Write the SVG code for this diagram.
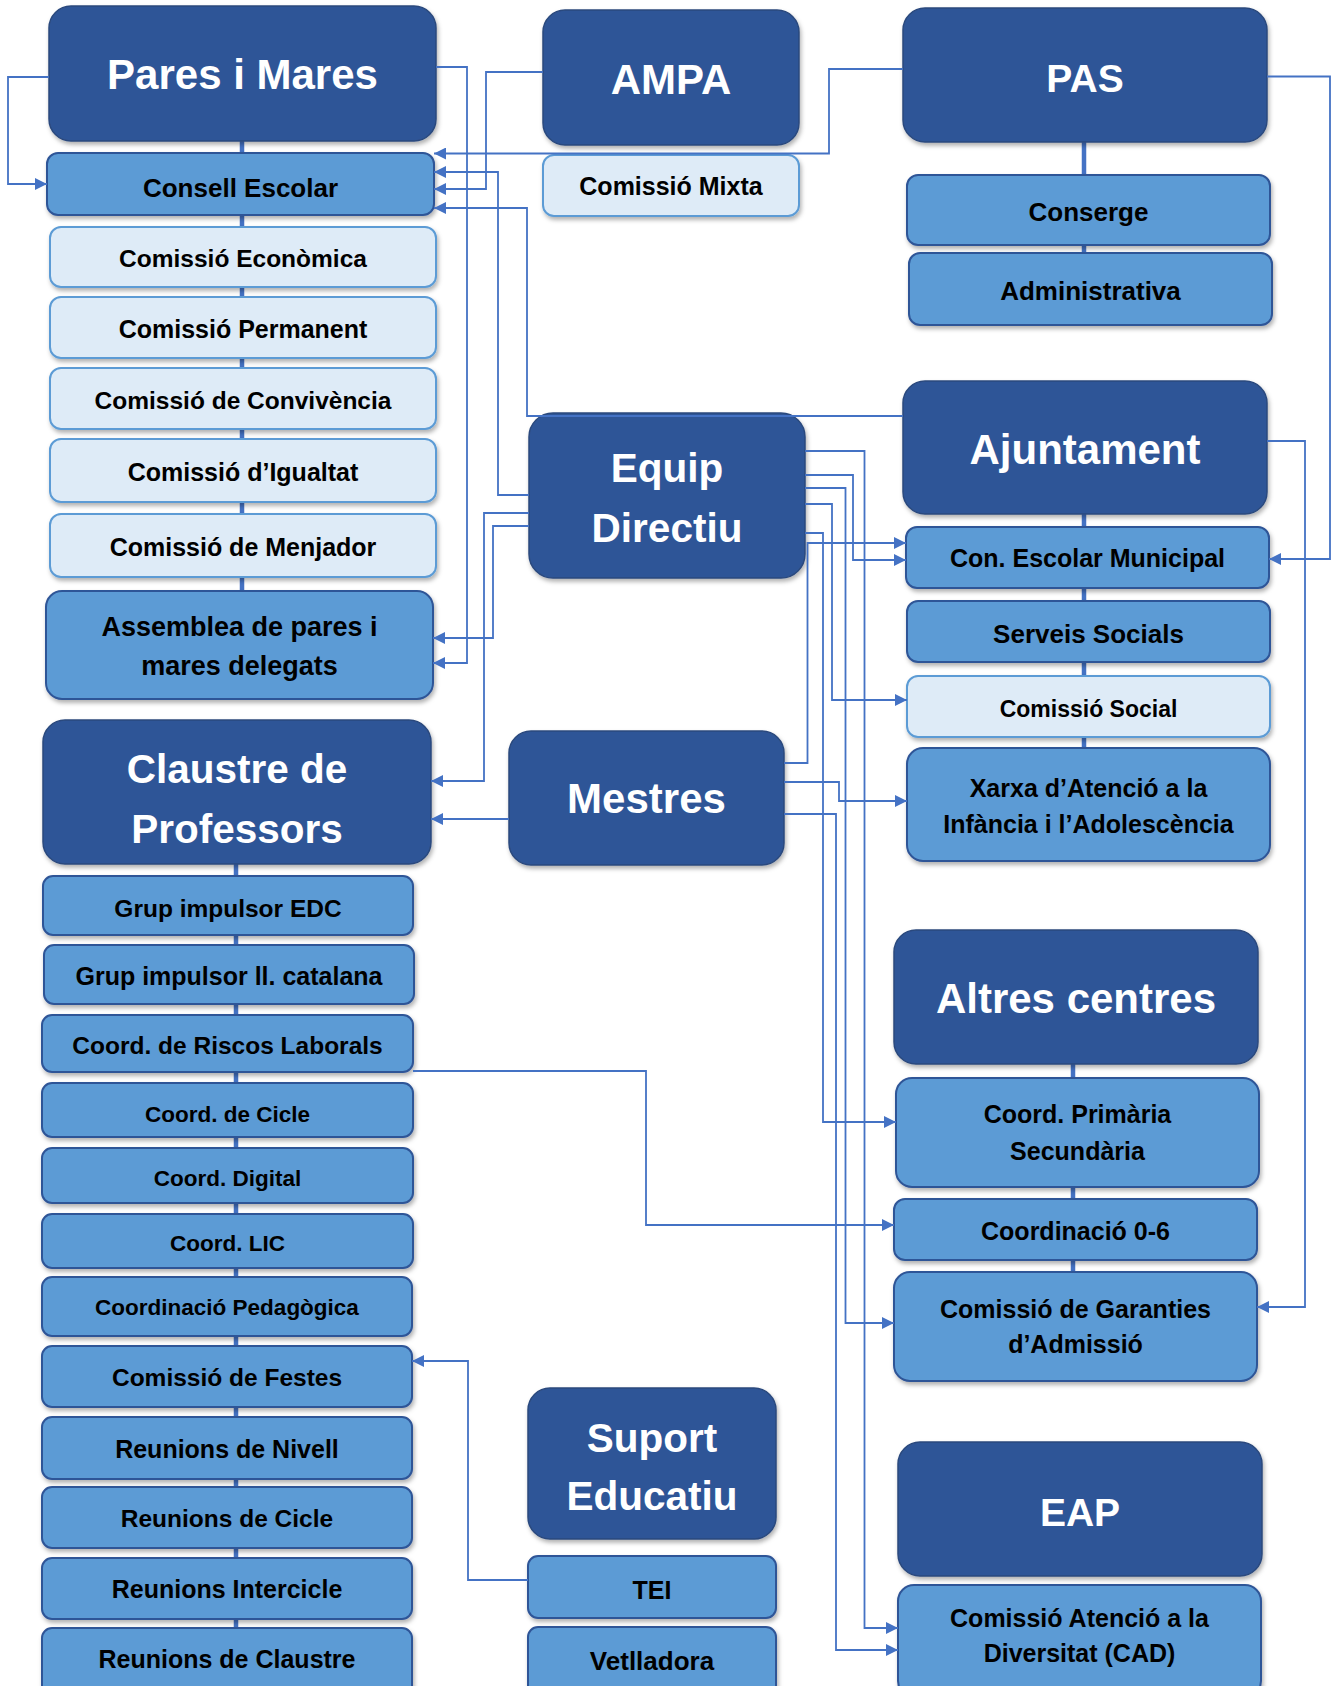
<svg xmlns="http://www.w3.org/2000/svg" width="1332" height="1686" viewBox="0 0 1332 1686">
<defs>
<filter id="sh" x="-10%" y="-10%" width="125%" height="135%">
<feDropShadow dx="1.5" dy="3" stdDeviation="2" flood-color="#000" flood-opacity="0.3"/>
</filter>
<marker id="ar" viewBox="0 0 12 12" refX="12" refY="6" markerWidth="12" markerHeight="12" markerUnits="userSpaceOnUse" orient="auto">
<path d="M0,0 L12,6 L0,12 z" fill="#4472c4"/>
</marker>
</defs>
<style>
.dk{fill:#2f5597;stroke:#2c4a7e;stroke-width:1.5;filter:url(#sh)}
.md{fill:#5b9bd5;stroke:#2f5597;stroke-width:2;filter:url(#sh)}
.lt{fill:#deebf7;stroke:#5b9bd5;stroke-width:2;filter:url(#sh)}
text{font-family:"Liberation Sans",Arial,sans-serif;font-weight:bold;text-anchor:middle}
.w{fill:#ffffff}
.b{fill:#000000}
.t42{font-size:42px}.t40{font-size:40.5px}.t39{font-size:39px}
.t27{font-size:27px}.t26{font-size:26px}.t25{font-size:25px}.t24{font-size:24.5px}.t23{font-size:23px}.t22{font-size:22.5px}
.stub{stroke:#4472c4;stroke-width:4.5;fill:none}
.cn{stroke:#4472c4;stroke-width:1.8;fill:none;marker-end:url(#ar)}
.cn0{stroke:#4472c4;stroke-width:1.8;fill:none}
</style>

<g id="stubs">
<path class="stub" d="M242,141V153M242,215V227M242,287V297M242,358V368M242,429V439M242,502V514M242,577V591"/>
<path class="stub" d="M1084,142V175M1084,245V253"/>
<path class="stub" d="M1084,514V527M1084,588V601M1084,662V676M1084,737V748"/>
<path class="stub" d="M1073,1064V1078M1073,1187V1199M1073,1260V1272"/>
<path class="stub" d="M236,864V876M236,935V945M236,1004V1015M236,1072V1083M236,1137V1148M236,1203V1214M236,1268V1277M236,1336V1346M236,1407V1417M236,1479V1487M236,1548V1558M236,1619V1628"/>
</g>

<g id="pares"><rect class="dk" x="49" y="6" width="387" height="135" rx="22"/><text class="w t42" x="242.5" y="89">Pares i Mares</text></g>
<g id="consell"><rect class="md" x="47" y="153" width="387" height="62" rx="11"/><text class="b t26" x="240.5" y="197">Consell Escolar</text></g>
<g id="com-economica"><rect class="lt" x="50" y="227" width="386" height="60" rx="11"/><text class="b t24" x="243" y="267">Comissió Econòmica</text></g>
<g id="com-permanent"><rect class="lt" x="50" y="297" width="386" height="61" rx="11"/><text class="b t25" x="243" y="338">Comissió Permanent</text></g>
<g id="com-convivencia"><rect class="lt" x="50" y="368" width="386" height="61" rx="11"/><text class="b t24" x="243" y="408.5">Comissió de Convivència</text></g>
<g id="com-igualtat"><rect class="lt" x="50" y="439" width="386" height="63" rx="11"/><text class="b t25" x="243" y="481">Comissió d’Igualtat</text></g>
<g id="com-menjador"><rect class="lt" x="50" y="514" width="386" height="63" rx="11"/><text class="b t25" x="243" y="556">Comissió de Menjador</text></g>
<g id="assemblea"><rect class="md" x="46" y="591" width="387" height="108" rx="16"/><text class="b t27" x="239.5" y="636">Assemblea de pares i</text><text class="b t27" x="239.5" y="675">mares delegats</text></g>

<g id="ampa"><rect class="dk" x="543" y="10" width="256" height="135" rx="22"/><text class="w t42" x="671" y="94">AMPA</text></g>
<g id="com-mixta"><rect class="lt" x="543" y="155" width="256" height="61" rx="11"/><text class="b t25" x="671" y="195">Comissió Mixta</text></g>

<g id="pas"><rect class="dk" x="903" y="8" width="364" height="134" rx="22"/><text class="w t39" x="1085" y="92">PAS</text></g>
<g id="conserge"><rect class="md" x="907" y="175" width="363" height="70" rx="11"/><text class="b t26" x="1088.5" y="221">Conserge</text></g>
<g id="administrativa"><rect class="md" x="909" y="253" width="363" height="72" rx="11"/><text class="b t26" x="1090.5" y="299.5">Administrativa</text></g>

<g id="ajuntament"><rect class="dk" x="903" y="381" width="364" height="133" rx="22"/><text class="w t42" x="1085" y="464">Ajuntament</text></g>
<g id="con-escolar-municipal"><rect class="md" x="906" y="527" width="363" height="61" rx="11"/><text class="b t25" x="1087.5" y="566.5">Con. Escolar Municipal</text></g>
<g id="serveis-socials"><rect class="md" x="907" y="601" width="363" height="61" rx="11"/><text class="b t26" x="1088.5" y="643">Serveis Socials</text></g>
<g id="com-social"><rect class="lt" x="907" y="676" width="363" height="61" rx="11"/><text class="b t23" x="1088.5" y="716.5">Comissió Social</text></g>
<g id="xarxa"><rect class="md" x="907" y="748" width="363" height="113" rx="16"/><text class="b t25" x="1088.5" y="796.5">Xarxa d’Atenció a la</text><text class="b t25" x="1088.5" y="833">Infància i l’Adolescència</text></g>

<g id="equip"><rect class="dk" x="529" y="413" width="276" height="165" rx="24"/><text class="w t40" x="667" y="482">Equip</text><text class="w t40" x="667" y="542">Directiu</text></g>
<g id="mestres"><rect class="dk" x="509" y="731" width="275" height="134" rx="22"/><text class="w t42" x="646.5" y="813">Mestres</text></g>

<g id="claustre"><rect class="dk" x="43" y="720" width="388" height="144" rx="22"/><text class="w t40" x="237" y="783">Claustre de</text><text class="w t40" x="237" y="843">Professors</text></g>
<g id="grup-edc"><rect class="md" x="43" y="876" width="370" height="59" rx="10"/><text class="b t24" x="228" y="917">Grup impulsor EDC</text></g>
<g id="grup-catalana"><rect class="md" x="44" y="945" width="370" height="59" rx="10"/><text class="b t25" x="229" y="985">Grup impulsor ll. catalana</text></g>
<g id="coord-riscos"><rect class="md" x="42" y="1015" width="371" height="57" rx="10"/><text class="b t24" x="227.5" y="1054">Coord. de Riscos Laborals</text></g>
<g id="coord-cicle"><rect class="md" x="42" y="1083" width="371" height="54" rx="10"/><text class="b t22" x="227.5" y="1122">Coord. de Cicle</text></g>
<g id="coord-digital"><rect class="md" x="42" y="1148" width="371" height="55" rx="10"/><text class="b t22" x="227.5" y="1186">Coord. Digital</text></g>
<g id="coord-lic"><rect class="md" x="42" y="1214" width="371" height="54" rx="10"/><text class="b t22" x="227.5" y="1251">Coord. LIC</text></g>
<g id="coord-pedagogica"><rect class="md" x="42" y="1277" width="370" height="59" rx="10"/><text class="b t22" x="227" y="1315">Coordinació Pedagògica</text></g>
<g id="com-festes"><rect class="md" x="42" y="1346" width="370" height="61" rx="10"/><text class="b t24" x="227" y="1386">Comissió de Festes</text></g>
<g id="reunions-nivell"><rect class="md" x="42" y="1417" width="370" height="62" rx="10"/><text class="b t25" x="227" y="1458">Reunions de Nivell</text></g>
<g id="reunions-cicle"><rect class="md" x="42" y="1487" width="370" height="61" rx="10"/><text class="b t24" x="227" y="1527">Reunions de Cicle</text></g>
<g id="reunions-intercicle"><rect class="md" x="42" y="1558" width="370" height="61" rx="10"/><text class="b t25" x="227" y="1598">Reunions Intercicle</text></g>
<g id="reunions-claustre"><rect class="md" x="42" y="1628" width="370" height="72" rx="10"/><text class="b t25" x="227" y="1668">Reunions de Claustre</text></g>

<g id="altres"><rect class="dk" x="894" y="930" width="364" height="134" rx="22"/><text class="w t42" x="1076" y="1013">Altres centres</text></g>
<g id="coord-primaria"><rect class="md" x="896" y="1078" width="363" height="109" rx="16"/><text class="b t25" x="1077.5" y="1123">Coord. Primària</text><text class="b t25" x="1077.5" y="1160">Secundària</text></g>
<g id="coord-06"><rect class="md" x="894" y="1199" width="363" height="61" rx="11"/><text class="b t25" x="1075.5" y="1240">Coordinació 0-6</text></g>
<g id="garanties"><rect class="md" x="894" y="1272" width="363" height="109" rx="16"/><text class="b t25" x="1075.5" y="1318">Comissió de Garanties</text><text class="b t25" x="1075.5" y="1353">d’Admissió</text></g>

<g id="eap"><rect class="dk" x="898" y="1442" width="364" height="134" rx="22"/><text class="w t39" x="1080" y="1526">EAP</text></g>
<g id="cad"><rect class="md" x="898" y="1585" width="363" height="112" rx="16"/><text class="b t25" x="1079.5" y="1627">Comissió Atenció a la</text><text class="b t25" x="1079.5" y="1662">Diversitat (CAD)</text></g>

<g id="suport"><rect class="dk" x="528" y="1388" width="248" height="151" rx="22"/><text class="w t40" x="652" y="1452">Suport</text><text class="w t40" x="652" y="1510">Educatiu</text></g>
<g id="tei"><rect class="md" x="528" y="1556" width="248" height="62" rx="10"/><text class="b t25" x="652" y="1599">TEI</text></g>
<g id="vetlladora"><rect class="md" x="528" y="1627" width="248" height="72" rx="10"/><text class="b t26" x="652" y="1670">Vetlladora</text></g>

<g id="connectors">
<path class="cn" d="M49,77H8V184H47"/>
<path class="cn" d="M436,67H467V663H433"/>
<path class="cn" d="M903,69H829V153.5H434"/>
<path class="cn" d="M529,495H498V172H434"/>
<path class="cn" d="M543,72H486V189H434"/>
<path class="cn" d="M903,416H527V208H434"/>
<path class="cn" d="M529,526H493V638H433"/>
<path class="cn" d="M529,513H484V781H431"/>
<path class="cn" d="M509,819H431"/>
<path class="cn" d="M805,475H853V560H906"/>
<path class="cn" d="M805,504H832V700H907"/>
<path class="cn" d="M805,533H823V1122H896"/>
<path class="cn" d="M805,488H845.5V1323H894"/>
<path class="cn" d="M805,451H864.5V1628H898"/>
<path class="cn" d="M784,763H807.5V543H906"/>
<path class="cn" d="M784,782H839V801H907"/>
<path class="cn" d="M784,814H836V1650H898"/>
<path class="cn" d="M1267,76.5H1330V559H1269"/>
<path class="cn" d="M1267,441H1305V1307H1257"/>
<path class="cn" d="M413,1071H646V1225H894"/>
<path class="cn" d="M528,1580H468V1361H412"/>
</g>
</svg>
